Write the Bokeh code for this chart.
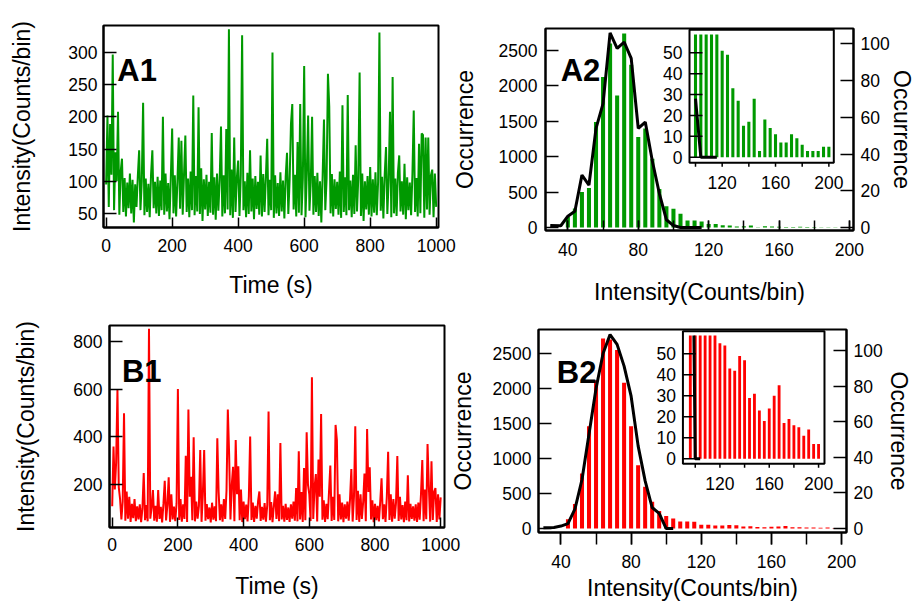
import numpy as np
from bokeh.plotting import figure
from bokeh.models import Range1d, LinearAxis, FixedTicker, Label, Column, Row
from bokeh.embed import file_html
from bokeh.resources import INLINE
from bokeh.core.properties import value

# ---------------- data ----------------
trace_time = list(range(0, 1001, 4))  # s

a1_intensity = [
    95, 202, 60, 189, 110, 297, 55, 145, 100, 208,
    48, 115, 135, 52, 105, 45, 98, 58, 112, 50,
    102, 36, 95, 60, 108, 148, 55, 100, 222, 47,
    104, 52, 96, 44, 110, 148, 58, 99, 50, 107,
    46, 101, 55, 200, 48, 112, 53, 97, 41, 106,
    182, 50, 109, 45, 100, 168, 57, 163, 48, 111,
    171, 52, 104, 44, 115, 55, 233, 47, 108, 53,
    215, 49, 120, 38, 103, 56, 110, 46, 99, 51,
    175, 48, 106, 40, 112, 54, 102, 185, 45, 109,
    50, 181, 56, 336, 47, 118, 43, 168, 52, 105,
    132, 46, 110, 327, 55, 100, 44, 113, 49, 148,
    53, 104, 41, 108, 57, 99, 48, 140, 45, 111,
    52, 106, 166, 47, 102, 55, 300, 43, 109, 50,
    97, 46, 114, 53, 101, 42, 107, 144, 49, 103,
    189, 220, 56, 110, 45, 161, 51, 220, 47, 105,
    279, 44, 112, 202, 54, 98, 200, 48, 108, 52,
    113, 46, 100, 36, 109, 196, 55, 104, 267, 216,
    50, 111, 45, 103, 57, 99, 48, 115, 43, 218,
    52, 106, 47, 234, 55, 101, 44, 110, 49, 156,
    53, 105, 269, 46, 112, 38, 100, 56, 108, 48,
    122, 45, 103, 51, 114, 47, 99, 331, 54, 107,
    42, 110, 153, 49, 102, 208, 44, 262, 50, 104,
    46, 113, 140, 53, 100, 48, 127, 41, 106, 55,
    98, 47, 111, 210, 52, 105, 45, 158, 50, 174,
    172, 43, 168, 56, 168, 48, 109, 118, 44, 112,
    60,
]

b1_intensity = [
    110, 360, 180, 293, 596, 190, 140, 55, 130, 499,
    50, 172, 58, 150, 45, 120, 60, 140, 48, 110,
    55, 118, 44, 100, 249, 52, 115, 47, 852, 58,
    105, 178, 50, 112, 46, 178, 57, 108, 43, 120,
    217, 51, 115, 231, 45, 160, 55, 109, 48, 122,
    600, 53, 140, 46, 118, 57, 321, 44, 514, 150,
    233, 52, 398, 47, 130, 58, 112, 345, 45, 160,
    345, 50, 119, 56, 105, 43, 125, 54, 110, 48,
    394, 171, 52, 118, 46, 140, 57, 175, 514, 326,
    55, 200, 275, 48, 387, 160, 277, 52, 180, 44,
    130, 56, 117, 47, 150, 402, 53, 125, 45, 112,
    58, 130, 172, 49, 108, 54, 123, 46, 115, 506,
    52, 128, 44, 110, 172, 57, 160, 48, 374, 55,
    112, 46, 120, 53, 105, 45, 118, 58, 130, 50,
    186, 47, 340, 55, 170, 44, 270, 52, 419, 200,
    160, 48, 649, 57, 190, 245, 46, 305, 150, 496,
    54, 135, 45, 120, 56, 170, 280, 49, 150, 53,
    450, 387, 47, 160, 55, 125, 44, 118, 58, 130,
    50, 140, 266, 46, 150, 444, 53, 175, 45, 160,
    57, 128, 247, 48, 433, 170, 273, 55, 135, 44,
    120, 52, 112, 47, 130, 227, 56, 118, 45, 150,
    338, 53, 160, 46, 140, 58, 125, 320, 49, 150,
    55, 115, 44, 130, 52, 240, 47, 120, 57, 110,
    50, 118, 45, 125, 54, 160, 303, 48, 180, 56,
    370, 190, 46, 298, 53, 170, 186, 44, 160, 55,
    147,
]

hist_centers = list(range(40, 201, 4))  # Counts/bin
a2_counts = [150, 270, 500, 560, 1490, 2125, 2600, 1865, 2740, 2300,
             1280, 1400, 970, 545, 300, 265, 193, 99, 99, 85,
             51, 49, 33, 27, 15, 17, 28, 3, 18, 14,
             11, 7, 7, 11, 9, 6, 3, 3, 3, 5, 5]
b2_counts = [0, 133, 350, 786, 1462, 2119, 2714, 2700, 2550, 2081,
             1462, 905, 595, 381, 250, 180, 143, 100, 100, 95,
             55, 54, 43, 42, 49, 47, 29, 31, 23, 18,
             24, 30, 35, 17, 19, 16, 15, 11, 14, 7, 7]

a2_line_x = [30, 36, 40, 44, 48, 52, 56, 60, 64, 68, 72, 76, 80, 84, 88, 92, 96, 100, 104, 108, 112, 116]
a2_line_y = [30, 25, 160, 230, 740, 600, 1400, 1750, 2750, 2530, 2620, 2390, 1400, 1490, 940, 480, 110, 28, 0, 0, 0, 0]
b2_line_x = [30, 36, 40, 44, 48, 52, 56, 60, 64, 68, 72, 76, 80, 84, 88, 92, 96, 100, 104]
b2_line_y = [10, 15, 35, 70, 280, 700, 1350, 2000, 2500, 2770, 2630, 2320, 1890, 1180, 680, 300, 215, 0, 0]

trace_xticks = [0, 200, 400, 600, 800, 1000]
a1_yticks = [50, 100, 150, 200, 250, 300]
b1_yticks = [200, 400, 600, 800]
hist_xticks = [40, 80, 120, 160, 200]
hist_xminor = list(range(40, 201, 20))
hist_yticks = [0, 500, 1000, 1500, 2000, 2500]
occ_ticks = [0, 20, 40, 60, 80, 100]
inset_xticks = [120, 160, 200]
inset_xminor = list(range(100, 201, 20))
inset_yticks = [0, 10, 20, 30, 40, 50]

a_inset_start = 100   # inset A shows bins from 100
b_inset_start = 96    # inset B shows bins from 96
inset_clip = 58.8     # inset bars are cut at this height

GREEN = "#009900"
RED = "#ff0000"
FONT = "Liberation Sans"
TICK_FS = "17.5px"
LABEL_FS = "23px"


def make_panel(frame_w, frame_h, borders, x_range, y_range, shift=0):
    bl, bt, br, bb = borders
    p = figure(x_range=Range1d(*x_range), y_range=Range1d(*y_range),
               frame_width=frame_w, frame_height=frame_h,
               min_border_left=bl, min_border_top=bt,
               min_border_right=br, min_border_bottom=bb,
               output_backend="svg", toolbar_location=None, tools="")
    if shift:
        p.styles = {"margin-left": f"{shift}px"}
    p.title.visible = False
    p.grid.visible = False
    p.outline_line_color = "black"
    p.outline_line_width = 2
    p.outline_line_alpha = 1
    p.border_fill_alpha = 0
    return p


def style_axis(ax, ticks, minor=None, tin=12, tout=0, standoff=8, label=None, lstand=10):
    ax.ticker = FixedTicker(ticks=ticks, minor_ticks=minor or [])
    ax.axis_line_color = "black"
    ax.axis_line_width = 2
    ax.major_tick_in = tin
    ax.major_tick_out = tout
    ax.major_tick_line_color = "black"
    ax.major_tick_line_width = 1.5
    if minor:
        ax.minor_tick_in = tin
        ax.minor_tick_out = tout
        ax.minor_tick_line_color = "black"
        ax.minor_tick_line_width = 1.5
    else:
        ax.minor_tick_line_color = None
    ax.major_label_standoff = standoff
    ax.major_label_text_font = FONT
    ax.major_label_text_font_size = TICK_FS
    ax.major_label_text_color = "black"
    ax.axis_label = label
    ax.axis_label_standoff = lstand
    ax.axis_label_text_font = FONT
    ax.axis_label_text_font_size = LABEL_FS
    ax.axis_label_text_font_style = "normal"
    ax.axis_label_text_color = "black"


def panel_label(p, x, y, text):
    p.add_layout(Label(x=x, y=y, text=text, text_font=FONT, text_font_size="31px",
                       text_font_style="bold", text_color="black",
                       text_baseline="alphabetic", text_align="left"))


def clip_polyline(xs, ys, ymax):
    ox, oy = [], []
    for i, (x, y) in enumerate(zip(xs, ys)):
        if i > 0:
            x0, y0 = xs[i - 1], ys[i - 1]
            if (y0 > ymax) != (y > ymax):
                ox.append(x0 + (x - x0) * (ymax - y0) / (y - y0))
                oy.append(ymax)
        if y <= ymax:
            ox.append(x)
            oy.append(y)
    return ox, oy


def add_inset(p, main_box, inset_box, ixr, iyr, counts, color, lx, ly, start):
    # main_box / inset_box: (left, top, width, height) in screen pixels
    mx, my, mw, mh = main_box
    ix, iy, iw, ih = inset_box
    sx = (ixr[1] - ixr[0]) / iw
    sy = (iyr[1] - iyr[0]) / ih
    p.extra_x_ranges = {"ix": Range1d(ixr[0] - (ix - mx) * sx,
                                      ixr[1] + ((mx + mw) - (ix + iw)) * sx)}
    eyr = dict(p.extra_y_ranges)
    eyr["iy"] = Range1d(iyr[0] - ((my + mh) - (iy + ih)) * sy,
                        iyr[1] + (iy - my) * sy)
    p.extra_y_ranges = eyr
    kw = dict(x_range_name="ix", y_range_name="iy")
    p.quad(left=[ixr[0]], right=[ixr[1]], bottom=[iyr[0]], top=[iyr[1]],
           fill_color="white", line_color="black", line_width=2, **kw)
    i0 = hist_centers.index(start)
    p.vbar(x=hist_centers[i0:], top=np.minimum(counts[i0:], inset_clip).tolist(),
           width=2.3, bottom=0, color=color, line_color=None, **kw)
    j0 = lx.index(start)
    cx, cy = clip_polyline(lx[j0:], ly[j0:], inset_clip)
    p.line(cx, cy, color="black", line_width=3, **kw)
    # inset axes
    p.ray(x=[ixr[0]] * len(inset_yticks), y=inset_yticks, length=13, length_units="screen",
          angle=0, line_color="black", line_width=1.5, **kw)
    p.text(x=[ixr[0]] * len(inset_yticks), y=inset_yticks, text=[str(t) for t in inset_yticks],
           x_offset=-7, text_align="right", text_baseline="middle",
           text_font=value(FONT), text_font_size=value(TICK_FS), text_color="black", **kw)
    p.ray(x=inset_xminor, y=[iyr[0]] * len(inset_xminor), length=4, length_units="screen",
          angle=-np.pi / 2, line_color="black", line_width=1.5, **kw)
    p.text(x=inset_xticks, y=[iyr[0]] * len(inset_xticks), text=[str(t) for t in inset_xticks],
           y_offset=13, text_align="center", text_baseline="top",
           text_font=value(FONT), text_font_size=value(TICK_FS), text_color="black", **kw)


def hist_panel(frame_w, frame_h, borders, xr, yr, yr_right, counts, color, lx, ly, label, lab_xy,
               bottom_tin, bottom_tout, bottom_standoff, bottom_lstand,
               left_standoff, left_lstand, right_standoff, right_lstand, shift=0):
    p = make_panel(frame_w, frame_h, borders, xr, yr, shift)
    p.vbar(x=hist_centers, top=counts, width=2.3, bottom=0, color=color, line_color=None)
    p.line(lx, ly, color="black", line_width=3)
    style_axis(p.xaxis[0], hist_xticks, minor=hist_xminor,
               tin=bottom_tin, tout=bottom_tout, standoff=bottom_standoff,
               label="Intensity(Counts/bin)", lstand=bottom_lstand)
    style_axis(p.yaxis[0], hist_yticks, tin=13, standoff=left_standoff,
               label="Occurrence", lstand=left_lstand)
    p.extra_y_ranges = {"occ": Range1d(*yr_right)}
    rax = LinearAxis(y_range_name="occ")
    style_axis(rax, occ_ticks, tin=13, standoff=right_standoff,
               label="Occurrence", lstand=right_lstand)
    p.add_layout(rax, "right")
    panel_label(p, lab_xy[0], lab_xy[1], label)
    return p


# ---------------- A1 ----------------
pA1 = make_panel(335, 202, (109, 25, 19, 73), (-8, 1007), (28, 342), shift=-6)
pA1.line(trace_time, a1_intensity, color=GREEN, line_width=2.0)
style_axis(pA1.xaxis[0], trace_xticks, tin=10, standoff=11, label="Time (s)", lstand=17)
style_axis(pA1.yaxis[0], a1_yticks, tin=13, standoff=6, label="Intensity(Counts/bin)", lstand=30)
panel_label(pA1, 34, 272, "A1")

# ---------------- B1 ----------------
pB1 = make_panel(335, 202, (109, 25, 19, 76), (-8.2, 1011.6), (21.3, 865.7))
pB1.line(trace_time, b1_intensity, color=RED, line_width=2.0)
style_axis(pB1.xaxis[0], trace_xticks, tin=10, standoff=10, label="Time (s)", lstand=19)
style_axis(pB1.yaxis[0], b1_yticks, tin=13, standoff=7, label="Intensity(Counts/bin)", lstand=31)
panel_label(pB1, 29.6, 674, "B1")

# ---------------- A2 ----------------
pA2 = hist_panel(308, 202, (97, 28, 70, 80), (27.3, 202.3), (-42, 2811), (-1.6, 108.3),
                 a2_counts, GREEN, a2_line_x, a2_line_y, "A2", (35.9, 2217),
                 10, 0, 12, 20, 8, 18, 7, -4)
add_inset(pA2, (545, 28, 308, 202), (689, 29.3, 144.3, 133), (95.5, 203.7), (-2.7, 61),
          a2_counts, GREEN, a2_line_x, a2_line_y, a_inset_start)

# ---------------- B2 ----------------
pB2 = hist_panel(312, 203, (97, 19, 70, 78), (27.2, 202.8), (-57, 2843), (-2.25, 112),
                 b2_counts, RED, b2_line_x, b2_line_y, "B2", (37.6, 2223),
                 0, 12, 10, 4, 7, 14, 7, 0, shift=-7)
add_inset(pB2, (538, 329, 312, 203), (684.3, 330.7, 143.4, 132.6), (90, 204.8), (-2.4, 60.8),
          b2_counts, RED, b2_line_x, b2_line_y, b_inset_start)

left_col = Column(children=[pA1, pB1])
right_col = Column(children=[pA2, pB2], styles={"margin-left": "-15px"})
root = Row(children=[left_col, right_col])
try:
    from bokeh.models import GlobalInlineStyleSheet
    root.stylesheets = [GlobalInlineStyleSheet(css="html, body { overflow: hidden; }")]
except Exception:
    pass

open("out.html", "w").write(file_html(root, INLINE))
